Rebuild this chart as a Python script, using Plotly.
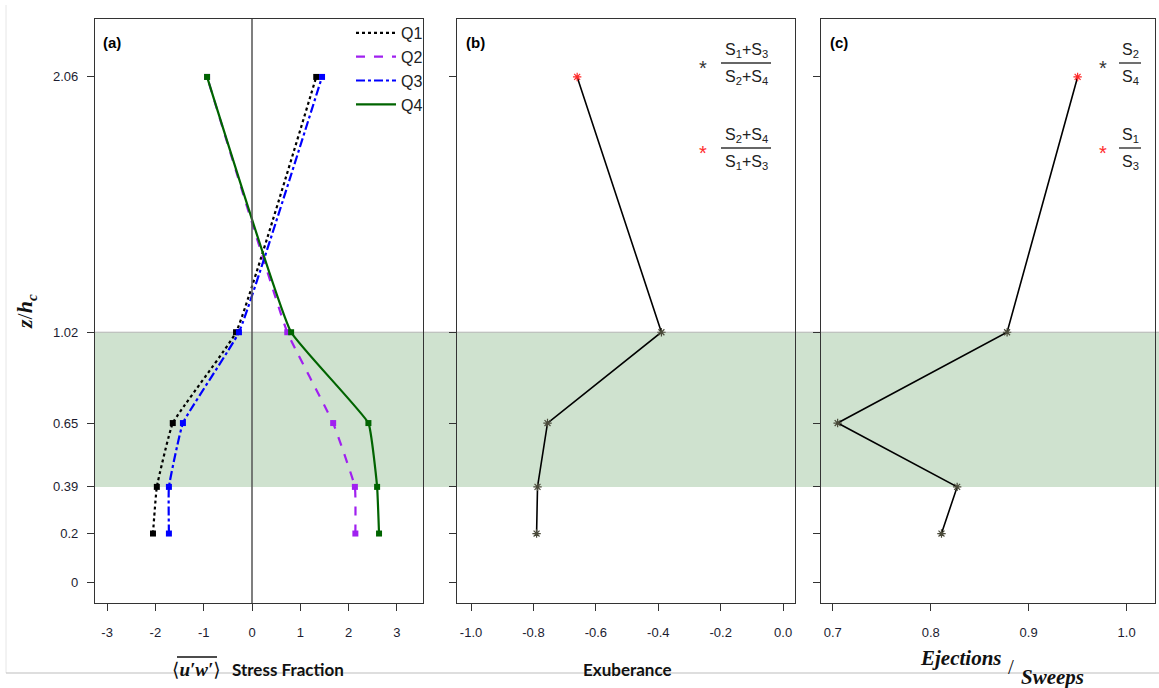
import plotly.graph_objects as go

W, H = 1159, 688

# Heights (z/hc) shared by all three panels
z_levels = [0.2, 0.39, 0.65, 1.02, 2.06]
z_ticks = [0, 0.2, 0.39, 0.65, 1.02, 2.06]
z_tick_text = ["0", "0.2", "0.39", "0.65", "1.02", "2.06"]

# Panel (a): quadrant stress fractions
q1 = [-2.05, -1.97, -1.64, -0.33, 1.33]
q2 = [2.14, 2.13, 1.68, 0.73, -0.93]
q3 = [-1.72, -1.72, -1.43, -0.27, 1.45]
q4 = [2.63, 2.59, 2.41, 0.81, -0.93]
a_ticks = [-3, -2, -1, 0, 1, 2, 3]
a_tick_text = ["-3", "-2", "-1", "0", "1", "2", "3"]

# Panel (b): exuberance
exuberance = [-0.79, -0.787, -0.755, -0.39, -0.66]
b_ticks = [-1.0, -0.8, -0.6, -0.4, -0.2, 0.0]
b_tick_text = ["-1.0", "-0.8", "-0.6", "-0.4", "-0.2", "0.0"]

# Panel (c): ejections / sweeps
ej_sw = [0.811, 0.827, 0.705, 0.878, 0.95]
c_ticks = [0.7, 0.8, 0.9, 1.0]
c_tick_text = ["0.7", "0.8", "0.9", "1.0"]

# Marker colour per height: top level uses the inverted ratio (red)
pt_colors = ["#4a4a3a", "#4a4a3a", "#4a4a3a", "#4a4a3a", "#ff2a2a"]


def px(x):
    return x / W


def py(y):
    return 1 - y / H


fig = go.Figure()

quads = [
    ("Q1", q1, "#000000", "dot"),
    ("Q2", q2, "#a020f0", "dash"),
    ("Q3", q3, "#0000ff", "dashdot"),
    ("Q4", q4, "#006400", "solid"),
]
for name, vals, col, dash in quads:
    fig.add_trace(go.Scatter(
        x=vals, y=z_levels, mode="lines+markers", xaxis="x", yaxis="y",
        line=dict(color=col, dash=dash, width=2.2, shape="spline", smoothing=0.3),
        marker=dict(symbol="square", size=6, color=col),
        showlegend=False, hoverinfo="skip"))
    # line-only legend entries
    fig.add_trace(go.Scatter(
        x=[None], y=[None], mode="lines", xaxis="x", yaxis="y", name=name,
        line=dict(color=col, dash=dash, width=2.2), showlegend=True))

fig.add_trace(go.Scatter(
    x=exuberance, y=z_levels, mode="lines+markers", xaxis="x2", yaxis="y2",
    line=dict(color="#000000", width=1.6),
    marker=dict(symbol="asterisk-open", size=7, color=pt_colors,
                line=dict(color=pt_colors, width=1.2)),
    showlegend=False, hoverinfo="skip"))

fig.add_trace(go.Scatter(
    x=ej_sw, y=z_levels, mode="lines+markers", xaxis="x3", yaxis="y3",
    line=dict(color="#000000", width=1.6),
    marker=dict(symbol="asterisk-open", size=7, color=pt_colors,
                line=dict(color=pt_colors, width=1.2)),
    showlegend=False, hoverinfo="skip"))

tick_font = dict(family="Liberation Sans, Arial", size=13, color="#1c1c30")
y_dom = [py(603), py(19)]
y_range = [-0.083, 2.296]

common_x = dict(showgrid=False, zeroline=False, showline=True, mirror=True,
                linecolor="#333333", linewidth=1.3, ticks="outside", ticklen=7,
                tickcolor="#333333", tickwidth=1.3, tickfont=tick_font,
                ticklabelstandoff=10, fixedrange=True)
common_y = dict(showgrid=False, zeroline=False, showline=True, mirror=True,
                linecolor="#333333", linewidth=1.3, ticks="outside", ticklen=7,
                tickcolor="#333333", tickwidth=1.3, tickfont=tick_font,
                range=y_range, domain=y_dom, tickvals=z_ticks,
                ticktext=z_tick_text, fixedrange=True)

fig.update_layout(
    width=W, height=H,
    margin=dict(l=0, r=0, t=0, b=0),
    paper_bgcolor="white", plot_bgcolor="rgba(0,0,0,0)",
    xaxis=dict(common_x, domain=[px(95), px(423)], range=[-3.25, 3.54],
               tickvals=a_ticks, ticktext=a_tick_text, anchor="y"),
    xaxis2=dict(common_x, domain=[px(457), px(795)], range=[-1.045, 0.038],
                tickvals=b_ticks, ticktext=b_tick_text, anchor="y2"),
    xaxis3=dict(common_x, domain=[px(821), px(1155)], range=[0.688, 1.029],
                tickvals=c_ticks, ticktext=c_tick_text, anchor="y3"),
    yaxis=dict(common_y, anchor="x", ticklabelstandoff=6),
    yaxis2=dict(common_y, anchor="x2", showticklabels=False),
    yaxis3=dict(common_y, anchor="x3", showticklabels=False),
    legend=dict(x=px(351), y=py(16), xanchor="left", yanchor="top",
                bgcolor="rgba(0,0,0,0)", borderwidth=0,
                font=dict(family="Liberation Sans, Arial", size=16, color="#222"),
                tracegroupgap=0, itemwidth=40),
)

shapes = []
# canopy band across all panels
shapes.append(dict(type="rect", xref="paper", yref="y", x0=px(95), x1=1.0,
                   y0=0.39, y1=1.02, fillcolor="#cfe2cf", line=dict(width=0),
                   layer="below"))
shapes.append(dict(type="line", xref="paper", yref="y", x0=px(95), x1=1.0,
                   y0=1.02, y1=1.02, line=dict(color="#b4b4b4", width=1),
                   layer="below"))
# zero line in panel (a)
shapes.append(dict(type="line", xref="x", yref="y domain", x0=0, x1=0, y0=0, y1=1,
                   line=dict(color="#555555", width=1.5)))
# outer frame
shapes.append(dict(type="line", xref="paper", yref="paper", x0=px(6), x1=px(6),
                   y0=py(5), y1=py(673), line=dict(color="#e6e6e6", width=1)))
shapes.append(dict(type="line", xref="paper", yref="paper", x0=px(6), x1=1.0,
                   y0=py(673), y1=py(673), line=dict(color="#bdbdbd", width=1.2)))

annotations = []


def note(text, x, y, size=14, family="Liberation Sans, Arial", color="#222",
         xanchor="center", angle=0):
    annotations.append(dict(text=text, x=px(x), y=py(y), xref="paper", yref="paper",
                            showarrow=False, xanchor=xanchor, yanchor="middle",
                            textangle=angle,
                            font=dict(size=size, family=family, color=color)))


# panel tags
note("<b>(a)</b>", 101, 42, size=15, xanchor="left", color="#000")
note("<b>(b)</b>", 464, 42, size=15, xanchor="left", color="#000")
note("<b>(c)</b>", 828, 42, size=15, xanchor="left", color="#000")


def fraction(cx, y_bar, half, top, bottom, star_x, star_col):
    note(top, cx, y_bar - 13, size=16)
    note(bottom, cx, y_bar + 15, size=16)
    shapes.append(dict(type="line", xref="paper", yref="paper",
                       x0=px(cx - half), x1=px(cx + half), y0=py(y_bar), y1=py(y_bar),
                       line=dict(color="#333", width=1.4)))
    note("*", star_x, y_bar + 5, size=20, color=star_col)


fraction(746, 63, 25, "S<sub>1</sub>+S<sub>3</sub>", "S<sub>2</sub>+S<sub>4</sub>", 703, "#333")
fraction(746, 148, 25, "S<sub>2</sub>+S<sub>4</sub>", "S<sub>1</sub>+S<sub>3</sub>", 703, "#ff2a2a")
fraction(1130, 63, 11, "S<sub>2</sub>", "S<sub>4</sub>", 1103, "#333")
fraction(1130, 148, 11, "S<sub>1</sub>", "S<sub>3</sub>", 1103, "#ff2a2a")

# axis titles
serif = "Liberation Serif, DejaVu Serif"
note("⟨<b><i>u′w′</i></b>⟩", 196, 669, size=19, family=serif, color="#111")
shapes.append(dict(type="line", xref="paper", yref="paper", x0=px(177), x1=px(217),
                   y0=py(657), y1=py(657), line=dict(color="#111", width=1.3)))
note("<b>Stress Fraction</b>", 288, 669, size=17, family="Lato, Open Sans", color="#111")
note("<b>Exuberance</b>", 627, 669, size=17, family="Lato, Open Sans", color="#111")
note("<b><i>Ejections</i></b>", 961, 658, size=21, family=serif, color="#111")
note("/", 1011, 667, size=21, family=serif, color="#111")
note("<b><i>Sweeps</i></b>", 1052, 677, size=21, family=serif, color="#111")
note("<b><i>z</i></b>/<b><i>h<sub>c</sub></i></b>", 26, 312, size=22, family=serif,
     color="#111", angle=-90)

fig.update_layout(shapes=shapes, annotations=annotations)

fig.write_html("out.html")
